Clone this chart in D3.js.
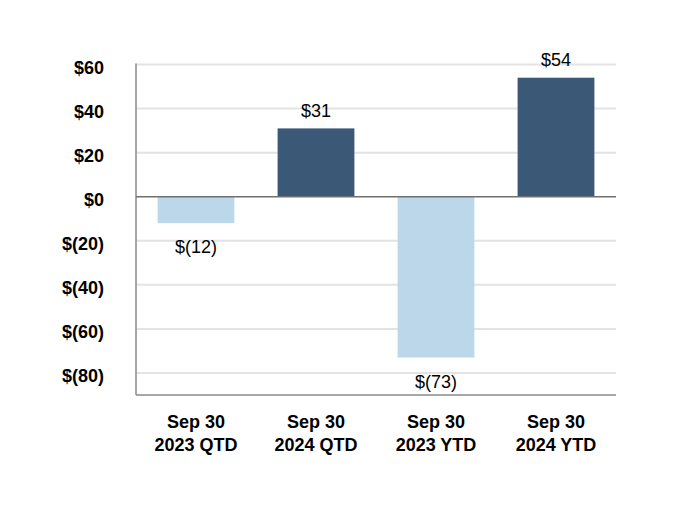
<!DOCTYPE html>
<html>
<head>
<meta charset="utf-8">
<script src="https://cdn.jsdelivr.net/npm/d3@7"></script>
<style>
  body { margin: 0; background: #fff; }
  svg { font-family: "Liberation Sans", Arial, sans-serif; }
</style>
</head>
<body>
<svg id="chart" width="680" height="518"></svg>
<script>
// chart data
var categories = [["Sep 30", "2023 QTD"], ["Sep 30", "2024 QTD"], ["Sep 30", "2023 YTD"], ["Sep 30", "2024 YTD"]];
var values = [-12, 31, -73, 54];
var tickValues = [60, 40, 20, 0, -20, -40, -60, -80];

var svg = d3.select("#chart");
var plotLeft = 136, plotRight = 616, plotTop = 64.5, plotBottom = 395;

var x = d3.scaleBand().domain(d3.range(categories.length)).range([plotLeft, plotRight]).paddingInner(0.36).paddingOuter(0.18);
var y = d3.scaleLinear().domain([-90, 60]).range([plotBottom, plotTop]);

function money(v) { return v < 0 ? "$(" + Math.abs(v) + ")" : "$" + v; }

// gridlines
svg.append("g").selectAll("line").data(tickValues.filter(function (t) { return t !== 0; }))
  .enter().append("line")
  .attr("x1", plotLeft).attr("x2", plotRight)
  .attr("y1", function (d) { return y(d); }).attr("y2", function (d) { return y(d); })
  .attr("stroke", "#e3e3e3").attr("stroke-width", 2);

// tick labels
svg.append("g").selectAll("text").data(tickValues).enter().append("text")
  .attr("x", 104).attr("y", function (d) { return y(d) + 3; })
  .attr("dy", "0.35em").attr("text-anchor", "end")
  .attr("font-size", 18).attr("font-weight", "bold").attr("fill", "#000")
  .text(money);

// bars
svg.append("g").selectAll("rect").data(values).enter().append("rect")
  .attr("x", function (d, i) { return x(i); })
  .attr("width", x.bandwidth())
  .attr("y", function (d) { return y(Math.max(0, d)); })
  .attr("height", function (d) { return Math.abs(y(d) - y(0)); })
  .attr("fill", function (d) { return d < 0 ? "#bcd6ea" : "#3b5977"; });

// axes lines
svg.append("line").attr("x1", plotLeft).attr("x2", plotLeft).attr("y1", plotTop - 1).attr("y2", plotBottom)
  .attr("stroke", "#8a8a8a").attr("stroke-width", 1.5);
svg.append("line").attr("x1", plotLeft).attr("x2", plotRight).attr("y1", plotBottom).attr("y2", plotBottom)
  .attr("stroke", "#8a8a8a").attr("stroke-width", 1.5);
svg.append("line").attr("x1", plotLeft).attr("x2", plotRight).attr("y1", y(0)).attr("y2", y(0))
  .attr("stroke", "#707070").attr("stroke-width", 1.5);

// value labels
svg.append("g").selectAll("text").data(values).enter().append("text")
  .attr("x", function (d, i) { return x(i) + x.bandwidth() / 2; })
  .attr("y", function (d) { return d < 0 ? y(d) + 24 : y(d) - 18; })
  .attr("dy", "0.35em").attr("text-anchor", "middle")
  .attr("font-size", 18).attr("fill", "#000")
  .text(money);

// category labels
var cat = svg.append("g").selectAll("text").data(categories).enter().append("text")
  .attr("x", function (d, i) { return x(i) + x.bandwidth() / 2; })
  .attr("text-anchor", "middle").attr("font-size", 18).attr("font-weight", "bold").attr("fill", "#000");
cat.append("tspan").attr("x", function (d, i) { return x(i) + x.bandwidth() / 2; }).attr("y", 428).text(function (d) { return d[0]; });
cat.append("tspan").attr("x", function (d, i) { return x(i) + x.bandwidth() / 2; }).attr("y", 451).text(function (d) { return d[1]; });
</script>
</body>
</html>
